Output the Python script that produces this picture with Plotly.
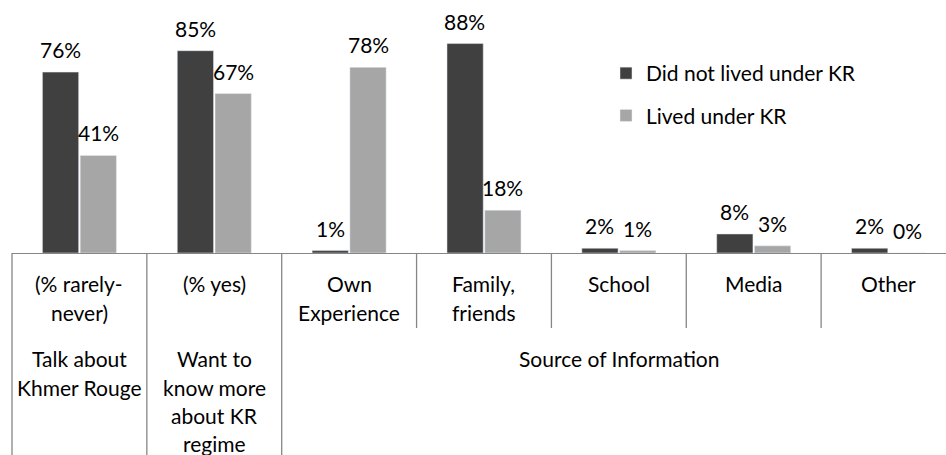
import plotly.graph_objects as go

# ---- data ----
categories = ["(% rarely-never)", "(% yes)", "Own Experience", "Family, friends", "School", "Media", "Other"]
category_lines = [["(% rarely-", "never)"], ["(% yes)"], ["Own", "Experience"], ["Family,", "friends"],
                  ["School"], ["Media"], ["Other"]]
group_labels = [["Talk about", "Khmer Rouge"], ["Want to", "know more", "about KR", "regime"], ["Source of Information"]]
group_spans = [(0, 0), (1, 1), (2, 6)]
series_names = ["Did not lived under KR", "Lived under KR"]
did_not_live = [0.76, 0.85, 0.01, 0.88, 0.02, 0.08, 0.02]
lived = [0.41, 0.67, 0.78, 0.18, 0.01, 0.03, 0.00]

# ---- style ----
W, H = 946, 455
PLOT_L, PLOT_R, PLOT_T, PLOT_B = 12, 946, 15, 253
FONT = "Lato"
FS = 21
DARK = "#404040"
LIGHT = "#a6a6a6"
AXIS = "#868686"
XRANGE = [-0.5, 6.426]


def py(pixel):
    return (PLOT_B - pixel) / (PLOT_B - PLOT_T)


def pxx(xval):
    return (xval - XRANGE[0]) / (XRANGE[1] - XRANGE[0])


def ppx(pixel):
    return (pixel - PLOT_L) / (PLOT_R - PLOT_L)


fig = go.Figure()
fig.add_trace(go.Bar(x=categories, y=did_not_live, name=series_names[0], marker_color=DARK,
                     legendgroup="a", hoverinfo="skip"))
fig.add_trace(go.Bar(x=categories, y=lived, name=series_names[1], marker_color=LIGHT,
                     legendgroup="b", hoverinfo="skip"))

annotations = []
# value labels
for vals, shift in ((did_not_live, -19), (lived, 19)):
    for c, v in zip(categories, vals):
        annotations.append(dict(x=c, y=v, xref="x", yref="y", text=f"{round(v*100)}%",
                                showarrow=False, xshift=shift, yshift=8, yanchor="bottom",
                                font=dict(family=FONT, size=FS, color="#000")))

# category labels
lvl1_y = [283, 312]
for i, lines in enumerate(category_lines):
    for j, t in enumerate(lines):
        annotations.append(dict(x=i, y=py(lvl1_y[j]), xref="x", yref="paper", text=t, showarrow=False,
                                yanchor="middle", font=dict(family=FONT, size=FS, color="#000")))
lvl2_y = [358, 387, 415, 443]
for (a, b), lines in zip(group_spans, group_labels):
    for j, t in enumerate(lines):
        annotations.append(dict(x=(a + b) / 2, y=py(lvl2_y[j]), xref="x", yref="paper", text=t,
                                showarrow=False, yanchor="middle",
                                font=dict(family=FONT, size=FS, color="#000")))

# divider lines of the category table
shapes = []
group_bounds = {0, 1, 2, 7}
for b in range(0, 8):
    xb = pxx(b - 0.5)
    y1 = py(H) if b in group_bounds else py(328)
    shapes.append(dict(type="line", xref="paper", yref="paper", x0=xb, x1=xb, y0=0, y1=y1,
                       line=dict(color=AXIS, width=1.3)))

fig.update_layout(
    width=W, height=H, autosize=False,
    margin=dict(l=PLOT_L, r=W - PLOT_R, t=PLOT_T, b=H - PLOT_B, pad=0, autoexpand=False),
    paper_bgcolor="white", plot_bgcolor="white",
    barmode="group", bargap=0.44, bargroupgap=0.04,
    font=dict(family=FONT, size=FS, color="#000"),
    xaxis=dict(range=XRANGE, showticklabels=False, ticks="", showgrid=False, zeroline=False,
               showline=True, linecolor=AXIS, linewidth=1.3, fixedrange=True),
    yaxis=dict(range=[0, 1], visible=False, fixedrange=True),
    legend=dict(x=ppx(606), y=py(53), xanchor="left", yanchor="top", traceorder="grouped",
                tracegroupgap=12, font=dict(family=FONT, size=FS, color="#000"),
                bgcolor="rgba(0,0,0,0)", borderwidth=0),
    annotations=annotations,
    shapes=shapes,
    showlegend=True,
)

fig.write_html("out.html", config={"displayModeBar": False},
               post_script="document.body.style.margin='0';document.body.style.overflow='hidden';")
